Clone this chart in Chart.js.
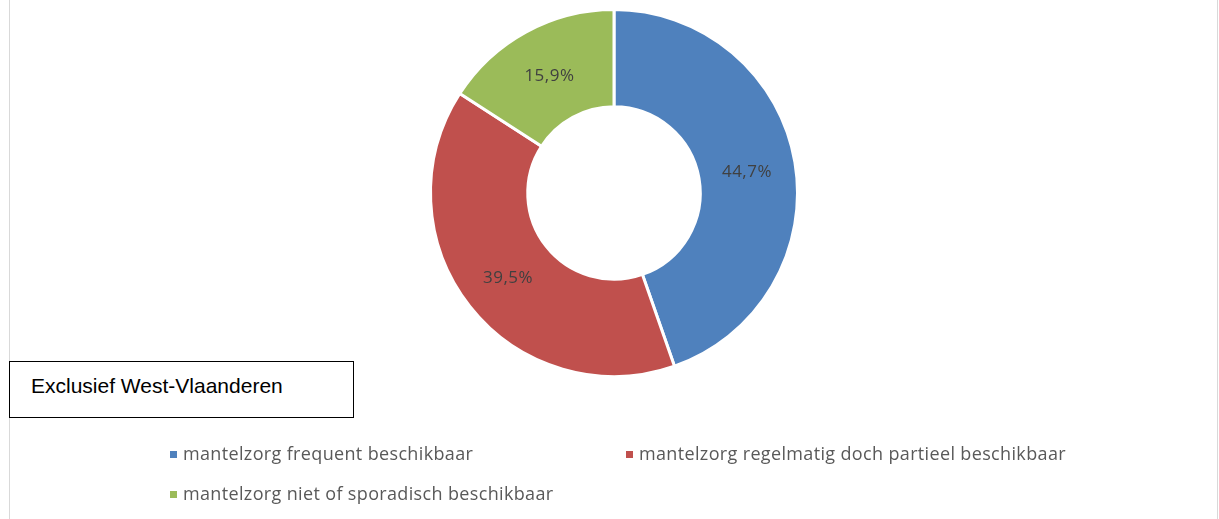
<!DOCTYPE html>
<html>
<head>
<meta charset="utf-8">
<script src="https://cdn.jsdelivr.net/npm/chart.js@4/dist/chart.umd.min.js"></script>
<style>
  html, body { margin: 0; padding: 0; background: #fff; }
  #wrap { position: relative; width: 1219px; height: 519px; overflow: hidden; }
  #frame { position: absolute; left: 9px; top: 0; width: 1207px; height: 519px;
           border-left: 1px solid #d9d9d9; border-right: 1px solid #d9d9d9; }
  #chart { position: absolute; left: 0; top: 0; }
  #note { position: absolute; left: 9px; top: 361px; width: 343px; height: 55px;
          border: 1px solid #000; background: #fff;
          font-family: "Liberation Sans", Arial, sans-serif; font-size: 21px; color: #000; }
  #note span { position: absolute; left: 21px; top: 12px; }
  .leg { position: absolute; font-family: "Open Sans", sans-serif; font-size: 18px; letter-spacing: 0.35px;
         color: #595959; white-space: nowrap; }
  .leg i { position: absolute; left: -13px; top: 10px; width: 7px; height: 7px; }
</style>
</head>
<body>
<div id="wrap">
  <div id="frame"></div>
  <canvas id="chart" width="1219" height="519"></canvas>
  <div id="note"><span>Exclusief West-Vlaanderen</span></div>
  <div id="legend"></div>
</div>
<script>
const categories = [
  "mantelzorg frequent beschikbaar",
  "mantelzorg regelmatig doch partieel beschikbaar",
  "mantelzorg niet of sporadisch beschikbaar"
];
const values = [44.7, 39.5, 15.9];
const colors = ["#4F81BD", "#C0504D", "#9BBB59"];

// legend positions (left of text, top)
const legendSpots = [[183, 441], [639, 441], [183, 481]];
const legendBox = document.getElementById("legend");
categories.forEach((c, i) => {
  const d = document.createElement("div");
  d.className = "leg";
  d.style.left = legendSpots[i][0] + "px";
  d.style.top = legendSpots[i][1] + "px";
  d.innerHTML = '<i style="background:' + colors[i] + '"></i>' + c;
  legendBox.appendChild(d);
});

const sliceLabels = {
  id: "sliceLabels",
  afterDatasetsDraw(chart) {
    const ctx = chart.ctx;
    const meta = chart.getDatasetMeta(0);
    ctx.save();
    ctx.font = '17px "Open Sans", sans-serif';
    ctx.letterSpacing = "0.5px";
    ctx.fillStyle = "#404040";
    ctx.textAlign = "center";
    ctx.textBaseline = "middle";
    meta.data.forEach((arc, i) => {
      const p = arc.getCenterPoint();
      ctx.fillText(values[i].toFixed(1).replace(".", ",") + "%", p.x, p.y + 2);
    });
    ctx.restore();
  }
};

new Chart(document.getElementById("chart"), {
  type: "doughnut",
  data: {
    labels: categories,
    datasets: [{
      data: values,
      backgroundColor: colors,
      borderColor: "#ffffff",
      borderWidth: 3
    }]
  },
  options: {
    responsive: false,
    animation: false,
    cutout: "47%",
    layout: { padding: { left: 9, right: 0, top: 8, bottom: 141 } },
    plugins: {
      legend: { display: false },
      tooltip: { enabled: false }
    }
  },
  plugins: [sliceLabels]
});
</script>
</body>
</html>
